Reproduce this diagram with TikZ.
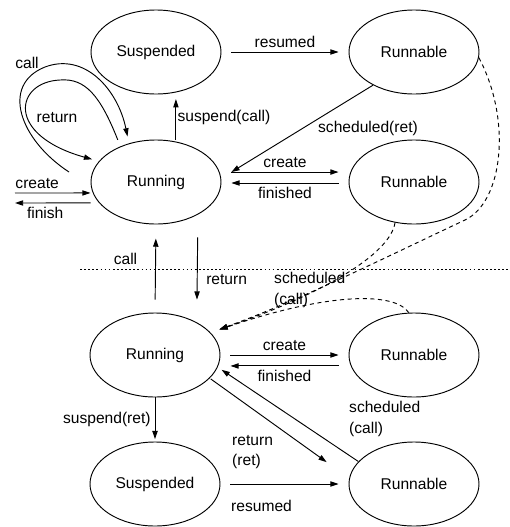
\documentclass[tikz,border=0pt]{standalone}
\usepackage{fontspec}
\setmainfont{Liberation Sans}
\usetikzlibrary{arrows.meta}
\usetikzlibrary{shapes.geometric}
\tikzstyle{StateNode}=[ellipse, draw=black, line width=0.8pt, minimum width=3.9cm, minimum height=2.52cm, inner sep=0pt]
\tikzstyle{Edge}=[->, line width=0.8pt]
\tikzstyle{GapEdge}=[Edge, shorten <=8.5pt, shorten >=8.5pt]
\tikzstyle{SchedEdge}=[Edge, dash pattern=on 3.5pt off 3pt, shorten >=8pt]
\tikzstyle{Divider}=[line width=0.8pt, dash pattern=on 1.5pt off 2pt]
\tikzstyle{TwoLine}=[align=left, anchor=west, inner sep=0pt]
\tikzset{>={Triangle[length=7pt,width=4.5pt]}}

\begin{document}
\begin{tikzpicture}[x=0.03cm, y=-0.03cm, font=\fontsize{13.3pt}{17.5pt}\selectfont]
\useasboundingbox (0,0) rectangle (510,527);
\node[StateNode](SUSP1) at (156,52) {Suspended};
\node[StateNode](RBL1) at (414,52) {Runnable};
\node[StateNode](RUN1) at (156,182) {Running};
\node[StateNode](RBL2) at (414,182) {Runnable};
\node[StateNode](RUN2) at (155,355) {Running};
\node[StateNode](RBL3) at (414,355) {Runnable};
\node[StateNode](SUSP2) at (155,484) {Suspended};
\node[StateNode](RBL4) at (414,484) {Runnable};

\coordinate(CALLIN) at (69,172);
\coordinate(NEWIN) at (15,193);
\coordinate(DONEOUT) at (15,203);
\coordinate(DIVL) at (80,269);
\coordinate(DIVR) at (508,269);

\draw[Edge, shorten >=6pt](CALLIN) .. controls (20,140) and (0,85) .. (45,67) .. controls (85,52) and (118,90) .. (RUN1.125);
\node(CALLTXT) at (27,63) {call};
\draw[Edge, shorten <=6pt, shorten >=6pt](RUN1.135) .. controls (100,95) and (85,78) .. (60,80) .. controls (15,82) and (5,135) .. (RUN1.160);
\node(RETURNTXT) at (57,118) {return};

\draw[GapEdge](SUSP1.east) -- (RBL1.west) node[midway, above](RESUMEDTXT1){resumed};
\draw[Edge, shorten >=4pt]([xshift=17pt]RUN1.north) -- ([xshift=17pt]SUSP1.south) node[midway, right, inner sep=1pt](SUSPTXT1){suspend(call)};
\draw[Edge](RBL1.-141) -- ([xshift=8.5pt,yshift=8.5pt]RUN1.east);
\node(SCHEDRETTXT) at (368,128) {scheduled(ret)};
\draw[GapEdge]([yshift=8.5pt]RUN1.east) -- ([yshift=8.5pt]RBL2.west) node[midway, above](CREATETXT1){create};
\draw[GapEdge]([yshift=-0.85pt]RBL2.west) -- ([yshift=-0.85pt]RUN1.east) node[midway, below](FINTXT1){finished};
\draw[Edge](NEWIN) -- ([yshift=-9.35pt]RUN1.west) node[pos=0, anchor=south west, inner xsep=0pt](CREATETXT0){create};
\draw[Edge]([yshift=-17.85pt]RUN1.west) -- (DONEOUT) node[pos=0.6, below](FINISHTXT){finish};

\draw[Edge, shorten <=11pt, shorten >=12pt](RUN2.north) -- (RUN1.south) node[pos=0.61, left=12pt](CALLTXT2){call};
\draw[Edge, shorten <=11pt, shorten >=11pt]([xshift=35.7pt]RUN1.south) -- ([xshift=35.7pt]RUN2.north) node[pos=0.63, right=4pt](RETURNTXT2){return};
\draw[Divider](DIVL) -- (DIVR);

\draw[SchedEdge](RBL1.-5) .. controls (512,120) and (503,202) .. (465,220) .. controls (380,260) and (300,300) .. (RUN2.22);
\draw[SchedEdge](RBL2.-115) .. controls (390,255) and (320,295) .. (RUN2.22);
\draw[SchedEdge](RBL3.97) .. controls (395,292) and (330,292) .. (RUN2.22);
\node[TwoLine](SCHEDTXT1) at (274,290) {scheduled\\(call)};

\draw[GapEdge](RUN2.east) -- (RBL3.west) node[midway, above](CREATETXT2){create};
\draw[GapEdge]([yshift=-9.35pt]RBL3.west) -- ([yshift=-9.35pt]RUN2.east) node[midway, below](FINTXT2){finished};
\draw[Edge, shorten <=1pt](RUN2.-23) -- ([xshift=-18.7pt,yshift=18.7pt]RBL4.west);
\node[TwoLine](RETTXT) at (232,452) {return\\(ret)};
\draw[Edge, shorten >=4pt](RBL4.158) -- (RUN2.-11);
\node[TwoLine](SCHEDTXT2) at (349,419) {scheduled\\(call)};
\draw[Edge, shorten >=2pt](RUN2.south) -- (SUSP2.north) node[midway, left](SUSPTXT2){suspend(ret)};
\draw[GapEdge](SUSP2.east) -- (RBL4.west);
\node[anchor=west, inner sep=0pt](RESUMEDTXT2) at (231,506) {resumed};
\end{tikzpicture}
\end{document}
